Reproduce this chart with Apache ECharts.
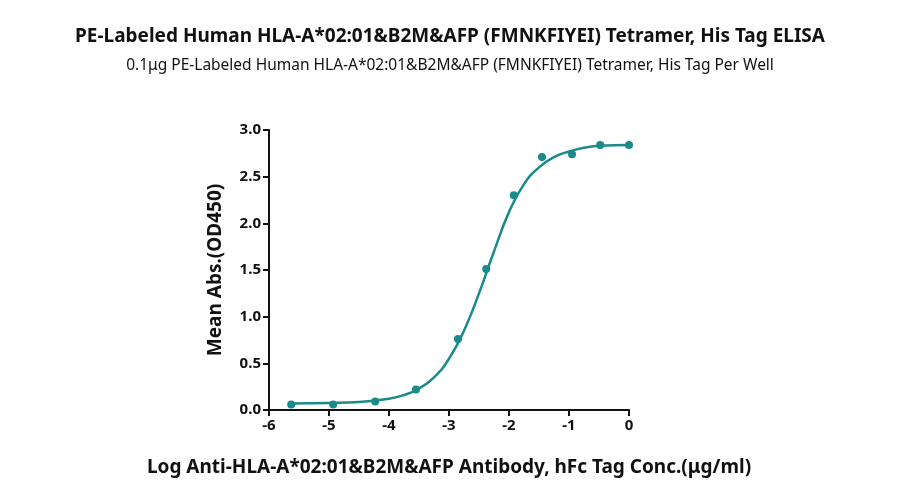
<!DOCTYPE html>
<html><head><meta charset="utf-8">
<script src="https://cdn.jsdelivr.net/npm/echarts@6/dist/echarts.min.js"></script>
<style>html,body{margin:0;background:#fff}#c{width:900px;height:504px}</style>
</head><body><div id="c"></div>
<script>
const pointX = [-5.63,-4.93,-4.23,-3.55,-2.85,-2.38,-1.92,-1.45,-0.95,-0.48,0];
const pointY = [0.06,0.06,0.09,0.22,0.76,1.51,2.30,2.71,2.74,2.84,2.84];
const curveX = [-5.63,-5,-4.5,-4,-3.75,-3.5,-3.25,-3,-2.75,-2.5,-2.25,-2,-1.75,-1.5,-1.25,-1,-0.75,-0.5,0];
const curveY = [0.07,0.075,0.085,0.12,0.16,0.23,0.35,0.55,0.85,1.25,1.7,2.12,2.42,2.6,2.71,2.77,2.81,2.83,2.84];
const color = '#1a8a8a';
const chart = echarts.init(document.getElementById('c'));
const ff = "'Noto Sans', sans-serif";
chart.setOption({
  animation:false,
  title:[{text:'PE-Labeled Human HLA-A*02:01&B2M&AFP (FMNKFIYEI) Tetramer, His Tag ELISA',left:'center',top:22,textStyle:{fontFamily:ff,fontSize:19,fontWeight:'bold',color:'#111'}},
         {text:'0.1μg PE-Labeled Human HLA-A*02:01&B2M&AFP (FMNKFIYEI) Tetramer, His Tag Per Well',left:'center',top:53,textStyle:{fontFamily:ff,fontSize:15.5,fontWeight:'normal',color:'#111'}}],
  grid:{left:269,right:271,top:130,bottom:94},
  xAxis:{type:'value',min:-6,max:0,interval:1,name:'Log Anti-HLA-A*02:01&B2M&AFP Antibody, hFc Tag Conc.(μg/ml)',nameLocation:'middle',nameGap:48,
    nameTextStyle:{fontFamily:ff,fontSize:19,fontWeight:'bold',color:'#111'},
    axisLine:{onZero:false,lineStyle:{color:'#111',width:2}},axisTick:{lineStyle:{width:2,color:'#111'},length:6},
    axisLabel:{fontFamily:ff,fontSize:15,fontWeight:'bold',color:'#111'},splitLine:{show:false}},
  yAxis:{type:'value',min:0,max:3,interval:0.5,name:'Mean Abs.(OD450)',nameLocation:'middle',nameGap:44,
    nameTextStyle:{fontFamily:ff,fontSize:19,fontWeight:'bold',color:'#111'},
    axisLine:{show:true,onZero:false,lineStyle:{color:'#111',width:2}},axisTick:{show:true,lineStyle:{width:2,color:'#111'},length:6},
    axisLabel:{fontFamily:ff,fontSize:15,fontWeight:'bold',color:'#111',formatter:v=>v.toFixed(1)},splitLine:{show:false}},
  series:[
    {type:'line',data:curveX.map((x,i)=>[x,curveY[i]]),smooth:0.5,showSymbol:false,lineStyle:{color,width:2.5}},
    {type:'scatter',data:pointX.map((x,i)=>[x,pointY[i]]),symbolSize:8,itemStyle:{color,opacity:1}}
  ]
});
</script></body></html>
